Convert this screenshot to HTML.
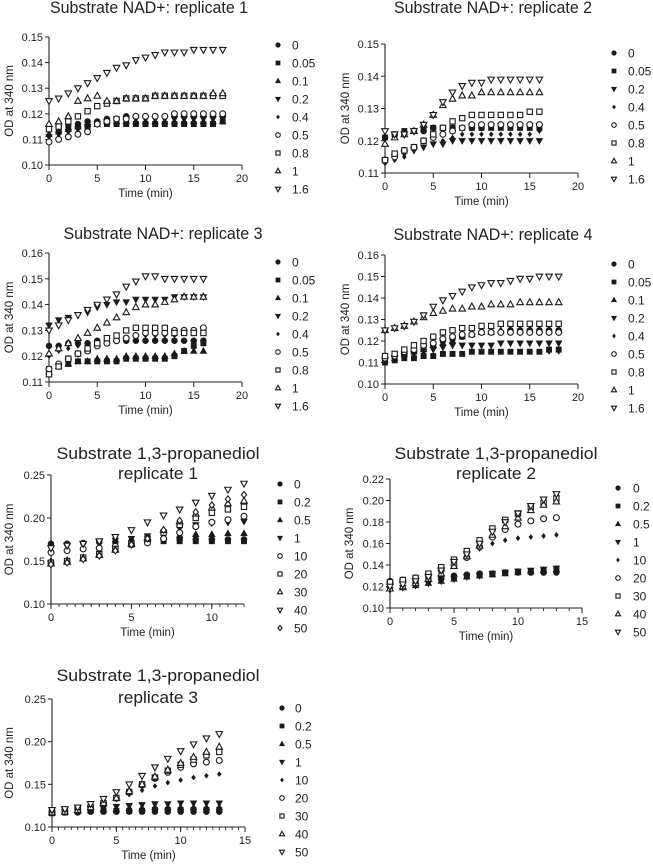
<!DOCTYPE html>
<html><head><meta charset="utf-8">
<style>
html,body{margin:0;padding:0;background:#fff;}
svg{display:block;font-family:"Liberation Sans",Arial,sans-serif;}
</style></head>
<body>
<svg id="fig" width="653" height="865" viewBox="0 0 653 865" xmlns="http://www.w3.org/2000/svg"></svg>
<script>
// ---------- DATA ----------
const nadLabels9 = ["0","0.05","0.1","0.2","0.4","0.5","0.8","1","1.6"];
const nadLabels8 = ["0","0.05","0.2","0.4","0.5","0.8","1","1.6"];
const pdoLabels = ["0","0.2","0.5","1","10","20","30","40","50"];
const nadMarkers9 = ["fc","fs","fu","fd","fx","oc","os","ou","od"];
const nadMarkers8 = ["fc","fs","fd","fx","oc","os","ou","od"];
const pdoMarkers = ["fc","fs","fu","fd","fx","oc","os","ou","od"];
const pdoMarkers1 = ["fc","fs","fu","fd","oc","os","ou","od","ox"];

const p1Times = [0,1,2,3,4,5,6,7,8,9,10,11,12,13,14,15,16,17,18];
const p1Values = [
 [0.115,0.115,0.116,0.116,0.117,0.117,0.118,0.118,0.119,0.119,0.119,0.119,0.119,0.119,0.119,0.119,0.119,0.119,0.119],
 [0.114,0.114,0.115,0.115,0.115,0.116,0.116,0.116,0.116,0.116,0.116,0.116,0.116,0.116,0.116,0.116,0.116,0.116,0.117],
 [0.112,0.113,0.114,0.115,0.116,0.116,0.117,0.117,0.117,0.117,0.117,0.117,0.117,0.117,0.117,0.117,0.117,0.117,0.117],
 [0.111,0.112,0.113,0.114,0.115,0.116,0.117,0.118,0.118,0.118,0.118,0.118,0.118,0.118,0.118,0.118,0.118,0.118,0.118],
 [0.112,0.112,0.113,0.114,0.115,0.116,0.117,0.118,0.118,0.118,0.119,0.119,0.119,0.119,0.119,0.119,0.119,0.119,0.119],
 [0.109,0.110,0.111,0.112,0.113,0.116,0.117,0.118,0.118,0.119,0.119,0.119,0.119,0.120,0.120,0.120,0.120,0.120,0.120],
 [0.114,0.115,0.117,0.119,0.121,0.123,0.124,0.125,0.126,0.126,0.126,0.127,0.127,0.127,0.127,0.127,0.127,0.127,0.127],
 [0.116,0.117,0.119,0.125,0.126,0.127,0.125,0.125,0.126,0.126,0.126,0.127,0.127,0.127,0.127,0.127,0.127,0.128,0.128],
 [0.125,0.126,0.128,0.130,0.132,0.134,0.136,0.138,0.139,0.141,0.142,0.143,0.144,0.144,0.144,0.145,0.145,0.145,0.145]
];
const p2Times = [0,1,2,3,4,5,6,7,8,9,10,11,12,13,14,15,16];
const p2Values = [
 [0.121,0.122,0.122,0.123,0.123,0.124,0.124,0.124,0.124,0.124,0.124,0.125,0.125,0.125,0.125,0.125,0.125],
 [0.121,0.122,0.123,0.123,0.124,0.124,0.124,0.124,0.124,0.124,0.124,0.124,0.124,0.124,0.124,0.124,0.124],
 [0.114,0.115,0.116,0.117,0.118,0.119,0.119,0.120,0.120,0.120,0.120,0.120,0.120,0.120,0.120,0.120,0.120],
 [0.113,0.114,0.115,0.117,0.118,0.119,0.120,0.121,0.122,0.122,0.122,0.122,0.122,0.122,0.122,0.122,0.123],
 [0.114,0.115,0.117,0.118,0.120,0.121,0.122,0.123,0.124,0.125,0.125,0.125,0.125,0.125,0.125,0.125,0.125],
 [0.114,0.116,0.117,0.118,0.120,0.122,0.124,0.126,0.127,0.128,0.128,0.128,0.128,0.128,0.128,0.129,0.129],
 [0.119,0.121,0.122,0.123,0.125,0.128,0.131,0.133,0.134,0.134,0.135,0.135,0.135,0.135,0.135,0.135,0.135],
 [0.123,0.122,0.122,0.123,0.125,0.128,0.132,0.135,0.137,0.138,0.138,0.139,0.139,0.139,0.139,0.139,0.139]
];
const p3Times = [0,1,2,3,4,5,6,7,8,9,10,11,12,13,14,15,16];
const p3Values = [
 [0.124,0.124,0.125,0.125,0.125,0.126,0.126,0.126,0.126,0.126,0.126,0.126,0.126,0.126,0.126,0.126,0.126],
 [0.115,0.116,0.117,0.118,0.118,0.118,0.118,0.118,0.119,0.119,0.119,0.119,0.119,0.120,0.122,0.124,0.125],
 [0.114,0.116,0.117,0.118,0.118,0.119,0.119,0.119,0.120,0.120,0.120,0.120,0.120,0.121,0.122,0.122,0.122],
 [0.132,0.134,0.135,0.136,0.137,0.139,0.140,0.141,0.141,0.142,0.142,0.142,0.142,0.143,0.143,0.143,0.143],
 [0.120,0.122,0.123,0.124,0.125,0.126,0.126,0.127,0.127,0.127,0.128,0.128,0.128,0.128,0.129,0.129,0.130],
 [0.115,0.117,0.119,0.121,0.122,0.124,0.125,0.126,0.127,0.128,0.129,0.129,0.129,0.130,0.130,0.130,0.131],
 [0.113,0.116,0.119,0.121,0.123,0.125,0.127,0.128,0.130,0.131,0.131,0.131,0.131,0.129,0.129,0.129,0.129],
 [0.121,0.123,0.125,0.127,0.129,0.131,0.133,0.135,0.137,0.139,0.140,0.140,0.141,0.142,0.143,0.143,0.143],
 [0.130,0.132,0.134,0.136,0.138,0.140,0.142,0.144,0.147,0.149,0.151,0.151,0.150,0.150,0.150,0.150,0.150]
];
const p4Times = [0,1,2,3,4,5,6,7,8,9,10,11,12,13,14,15,16,17,18];
const p4Values = [
 [0.112,0.113,0.114,0.115,0.117,0.118,0.120,0.121,0.122,0.123,0.124,0.124,0.124,0.125,0.125,0.125,0.125,0.125,0.125],
 [0.110,0.111,0.112,0.112,0.113,0.113,0.114,0.114,0.114,0.115,0.115,0.115,0.115,0.115,0.115,0.115,0.115,0.116,0.116],
 [0.111,0.112,0.114,0.115,0.116,0.118,0.119,0.120,0.122,0.123,0.124,0.124,0.125,0.125,0.125,0.125,0.125,0.125,0.125],
 [0.111,0.112,0.113,0.114,0.115,0.116,0.117,0.118,0.118,0.118,0.118,0.118,0.119,0.119,0.119,0.119,0.119,0.119,0.119],
 [0.110,0.111,0.112,0.112,0.113,0.113,0.114,0.114,0.114,0.115,0.115,0.115,0.115,0.115,0.115,0.115,0.115,0.115,0.115],
 [0.112,0.113,0.115,0.116,0.118,0.119,0.121,0.122,0.123,0.123,0.124,0.124,0.124,0.124,0.124,0.124,0.124,0.124,0.124],
 [0.113,0.114,0.116,0.118,0.120,0.122,0.124,0.125,0.126,0.126,0.127,0.127,0.128,0.128,0.128,0.128,0.128,0.128,0.128],
 [0.125,0.126,0.127,0.129,0.131,0.133,0.134,0.135,0.135,0.136,0.136,0.137,0.137,0.137,0.138,0.138,0.138,0.138,0.138],
 [0.125,0.126,0.127,0.129,0.132,0.136,0.139,0.141,0.143,0.145,0.146,0.147,0.147,0.148,0.149,0.149,0.150,0.150,0.150]
];
const p5Times = [0,1,2,3,4,5,6,7,8,9,10,11,12];
const p5Values = [
 [0.170,0.170,0.171,0.172,0.172,0.173,0.174,0.175,0.175,0.175,0.175,0.175,0.175],
 [0.148,0.150,0.153,0.157,0.163,0.169,0.172,0.173,0.173,0.173,0.173,0.173,0.173],
 [0.150,0.151,0.154,0.158,0.164,0.170,0.175,0.178,0.180,0.181,0.181,0.182,0.182],
 [0.165,0.167,0.170,0.172,0.174,0.176,0.179,0.183,0.188,0.192,0.194,0.195,0.196],
 [0.160,0.162,0.164,0.165,0.167,0.169,0.171,0.176,0.183,0.190,0.195,0.198,0.202],
 [0.148,0.150,0.154,0.158,0.164,0.170,0.176,0.183,0.192,0.200,0.206,0.210,0.213],
 [0.147,0.149,0.153,0.157,0.163,0.170,0.177,0.186,0.196,0.205,0.212,0.217,0.220],
 [0.165,0.168,0.170,0.173,0.178,0.186,0.195,0.203,0.210,0.218,0.226,0.233,0.240],
 [0.146,0.148,0.152,0.156,0.162,0.169,0.176,0.186,0.197,0.207,0.215,0.222,0.227]
];
const p6Times = [0,1,2,3,4,5,6,7,8,9,10,11,12,13];
const p6Values = [
 [0.125,0.126,0.127,0.128,0.129,0.130,0.131,0.132,0.132,0.133,0.133,0.133,0.133,0.133],
 [0.124,0.125,0.126,0.127,0.128,0.129,0.130,0.131,0.132,0.133,0.134,0.134,0.135,0.135],
 [0.118,0.119,0.121,0.123,0.125,0.127,0.129,0.130,0.131,0.132,0.133,0.134,0.135,0.136],
 [0.117,0.119,0.121,0.123,0.125,0.127,0.129,0.130,0.132,0.133,0.134,0.135,0.136,0.137],
 [0.124,0.126,0.128,0.131,0.135,0.140,0.147,0.155,0.160,0.163,0.165,0.166,0.167,0.168],
 [0.124,0.126,0.128,0.131,0.135,0.140,0.147,0.157,0.166,0.173,0.178,0.181,0.183,0.184],
 [0.124,0.126,0.128,0.132,0.138,0.145,0.153,0.163,0.174,0.182,0.188,0.194,0.198,0.202],
 [0.118,0.120,0.123,0.127,0.132,0.139,0.148,0.158,0.168,0.176,0.184,0.191,0.196,0.199],
 [0.120,0.122,0.125,0.129,0.135,0.143,0.150,0.160,0.171,0.180,0.188,0.195,0.201,0.206]
];
const p7Times = [0,1,2,3,4,5,6,7,8,9,10,11,12,13];
const p7Values = [
 [0.117,0.117,0.117,0.118,0.118,0.118,0.118,0.118,0.118,0.118,0.118,0.118,0.118,0.118],
 [0.116,0.117,0.118,0.119,0.119,0.119,0.119,0.119,0.120,0.120,0.120,0.120,0.120,0.120],
 [0.118,0.118,0.119,0.120,0.121,0.121,0.122,0.122,0.123,0.123,0.123,0.123,0.123,0.123],
 [0.120,0.120,0.121,0.122,0.122,0.124,0.125,0.126,0.127,0.127,0.128,0.128,0.128,0.128],
 [0.118,0.119,0.121,0.124,0.127,0.132,0.138,0.143,0.148,0.152,0.155,0.158,0.160,0.162],
 [0.118,0.119,0.121,0.124,0.128,0.134,0.141,0.149,0.157,0.164,0.170,0.174,0.176,0.178],
 [0.117,0.118,0.120,0.123,0.128,0.134,0.141,0.150,0.158,0.166,0.173,0.179,0.184,0.188],
 [0.117,0.118,0.120,0.123,0.128,0.134,0.142,0.150,0.159,0.167,0.175,0.182,0.188,0.194],
 [0.120,0.121,0.123,0.127,0.133,0.141,0.150,0.160,0.170,0.180,0.189,0.197,0.204,0.209]
];
const nadXTicks = [0,5,10,15,20];
const pdoXTicks12 = [0,5,10];
const pdoXTicks15 = [0,5,10,15];
const yTicksA = [0.10,0.11,0.12,0.13,0.14,0.15];
const yTicksB = [0.11,0.12,0.13,0.14,0.15];
const yTicksC = [0.11,0.12,0.13,0.14,0.15,0.16];
const yTicksD = [0.10,0.11,0.12,0.13,0.14,0.15,0.16];
const yTicksE = [0.10,0.15,0.20,0.25];
const yTicksF = [0.10,0.12,0.14,0.16,0.18,0.20,0.22];

// ---------- DRAWING ----------
const NS = "http://www.w3.org/2000/svg";
const svg = document.getElementById("fig");
function mk(tag, attrs, parent){
  const e = document.createElementNS(NS, tag);
  for (const k in attrs) e.setAttribute(k, attrs[k]);
  (parent||svg).appendChild(e);
  return e;
}
function marker(g, type, cx, cy, s){
  const filled = type[0]==="f";
  const fill = filled ? "#1a1a1a" : "#fff";
  const st = {fill:fill, stroke:"#1a1a1a", "stroke-width": filled?0.6:1.1};
  const k = type[1];
  let e;
  if (k==="c") e = mk("circle", Object.assign({cx:cx, cy:cy, r:s*0.5}, st), g);
  else if (k==="s") e = mk("rect", Object.assign({x:cx-s*0.45, y:cy-s*0.45, width:s*0.9, height:s*0.9}, st), g);
  else if (k==="u") e = mk("polygon", Object.assign({points:`${cx},${cy-s*0.6} ${cx-s*0.55},${cy+s*0.4} ${cx+s*0.55},${cy+s*0.4}`}, st), g);
  else if (k==="d") e = mk("polygon", Object.assign({points:`${cx},${cy+s*0.6} ${cx-s*0.55},${cy-s*0.4} ${cx+s*0.55},${cy-s*0.4}`}, st), g);
  else if (k==="x") {
    const r = filled ? s*0.4 : s*0.55;
    e = mk("polygon", Object.assign({points:`${cx},${cy-r} ${cx+r*0.8},${cy} ${cx},${cy+r} ${cx-r*0.8},${cy}`}, st), g);
  }
  return e;
}
function fmt(v, d){ return v.toFixed(d); }

function drawPanel(cfg){
  const g = mk("g", {});
  
  
  const X = t => cfg.x0 + (t - cfg.xmin)/(cfg.xmax - cfg.xmin)*(cfg.x1 - cfg.x0);
  const Y = v => cfg.yb + (v - cfg.ymin)/(cfg.ymax - cfg.ymin)*(cfg.yt - cfg.yb);
  cfg.title.forEach((line, i) => {
    const t = mk("text", {x:cfg.tcx, y:cfg.ty[i], "text-anchor":"middle", "font-size":16.5, fill:"#222", textLength:cfg.tw[i], lengthAdjust:"spacingAndGlyphs"}, g);
    t.textContent = line;
    
    
  });
  const ax = mk("path", {d:`M${cfg.x0},${cfg.yt} V${cfg.yb} H${cfg.x1}`, stroke:"#222", "stroke-width":1.1, fill:"none"}, g);
  
  
  cfg.yticks.forEach(v => {
    const y = Y(v);
    mk("line", {x1:cfg.x0-4, x2:cfg.x0, y1:y, y2:y, stroke:"#222", "stroke-width":1}, g);
    const t = mk("text", {x:cfg.x0-6, y:y+4, "text-anchor":"end", "font-size":11, fill:"#222"}, g);
    t.textContent = fmt(v, 2);
    
    
  });
  if (cfg.minor) {
    for (let t = cfg.xmin; t <= cfg.xmax + 1e-9; t += cfg.minor) {
      const x = X(t);
      mk("line", {x1:x, x2:x, y1:cfg.yb, y2:cfg.yb+3, stroke:"#222", "stroke-width":0.9}, g);
    }
  }
  cfg.xticks.forEach(v => {
    const x = X(v);
    mk("line", {x1:x, x2:x, y1:cfg.yb, y2:cfg.yb+5, stroke:"#222", "stroke-width":1}, g);
    const t = mk("text", {x:x, y:cfg.yb+17, "text-anchor":"middle", "font-size":11, fill:"#222"}, g);
    t.textContent = String(v);
    
    
  });
  const xt = mk("text", {x:(cfg.x0+cfg.x1)/2 - (cfg.xshift||0), y:cfg.yb+32, "text-anchor":"middle", "font-size":11.5, fill:"#222"}, g);
  xt.textContent = "Time (min)";
  
  
  const yc = (cfg.yt+cfg.yb)/2;
  const yt = mk("text", {x:cfg.ylx, y:yc, "text-anchor":"middle", "font-size":11.5, fill:"#222", transform:`rotate(-90 ${cfg.ylx} ${yc})`}, g);
  yt.textContent = "OD at 340 nm";
  
  
  cfg.values.forEach((ser, si) => {
    const sg = mk("g", {}, g);
    
    
    ser.forEach((v, i) => {
      const m = marker(sg, cfg.markers[si], X(cfg.times[i]), Y(v), 5.9);
      
      
    });
  });
  cfg.labels.forEach((lab, i) => {
    const lg = mk("g", {}, g);
    
    
    const y = cfg.ly0 + i*cfg.lstep;
    marker(lg, cfg.markers[i], cfg.lmx, y, 4.6);
    const t = mk("text", {x:cfg.llx, y:y+4.5, "font-size":12, fill:"#222"}, lg);
    t.textContent = lab;
  });
}

drawPanel({name:"panel-nad-replicate-1", title:["Substrate NAD+: replicate 1"], tcx:149, ty:[13], tw:[198],
  x0:49, x1:242, xmin:0, xmax:20, yb:165, yt:37, ymin:0.10, ymax:0.15, xticks:nadXTicks, yticks:yTicksA,
  times:p1Times, values:p1Values, labels:nadLabels9, markers:nadMarkers9, ylx:13, lmx:278, llx:292, ly0:45, lstep:18});
drawPanel({name:"panel-nad-replicate-2", title:["Substrate NAD+: replicate 2"], tcx:493, ty:[13], tw:[198],
  x0:385, x1:578, xmin:0, xmax:20, yb:173, yt:44, ymin:0.11, ymax:0.15, xticks:nadXTicks, yticks:yTicksB,
  times:p2Times, values:p2Values, labels:nadLabels8, markers:nadMarkers8, ylx:349, lmx:614, llx:628, ly0:53, lstep:18});
drawPanel({name:"panel-nad-replicate-3", title:["Substrate NAD+: replicate 3"], tcx:163, ty:[239], tw:[199],
  x0:49, x1:242, xmin:0, xmax:20, yb:382, yt:253, ymin:0.11, ymax:0.16, xticks:nadXTicks, yticks:yTicksC,
  times:p3Times, values:p3Values, labels:nadLabels9, markers:nadMarkers9, ylx:13, lmx:278, llx:292, ly0:262, lstep:18});
drawPanel({name:"panel-nad-replicate-4", title:["Substrate NAD+: replicate 4"], tcx:493, ty:[240], tw:[199],
  x0:385, x1:578, xmin:0, xmax:20, yb:384, yt:255, ymin:0.10, ymax:0.16, xticks:nadXTicks, yticks:yTicksD,
  times:p4Times, values:p4Values, labels:nadLabels9, markers:nadMarkers9, ylx:349, lmx:614, llx:628, ly0:264, lstep:18});
drawPanel({name:"panel-pdo-replicate-1", title:["Substrate 1,3-propanediol","replicate 1"], tcx:158, ty:[459, 479], tw:[203, 80],
  x0:51, x1:244, xmin:0, xmax:12, yb:604, yt:475, ymin:0.10, ymax:0.25, xticks:pdoXTicks12, yticks:yTicksE, minor:0.5,
  times:p5Times, values:p5Values, labels:pdoLabels, markers:pdoMarkers1, ylx:13, lmx:280, llx:294, ly0:484, lstep:18});
drawPanel({name:"panel-pdo-replicate-2", title:["Substrate 1,3-propanediol","replicate 2"], tcx:496, ty:[459, 479], tw:[203, 80],
  x0:390, x1:582, xmin:0, xmax:15, yb:608, yt:479, ymin:0.10, ymax:0.22, xticks:pdoXTicks15, yticks:yTicksF, minor:1,
  times:p6Times, values:p6Values, labels:pdoLabels, markers:pdoMarkers, ylx:353, lmx:618, llx:633, ly0:488, lstep:18});
drawPanel({name:"panel-pdo-replicate-3", title:["Substrate 1,3-propanediol","replicate 3"], tcx:158, ty:[681, 703], tw:[203, 80],
  x0:52, x1:245, xmin:0, xmax:15, yb:827, yt:699, ymin:0.10, ymax:0.25, xticks:pdoXTicks15, yticks:yTicksE, minor:0.5,
  times:p7Times, values:p7Values, labels:pdoLabels, markers:pdoMarkers, ylx:13, lmx:282, llx:295, ly0:708, lstep:18});
</script>
</body></html>
